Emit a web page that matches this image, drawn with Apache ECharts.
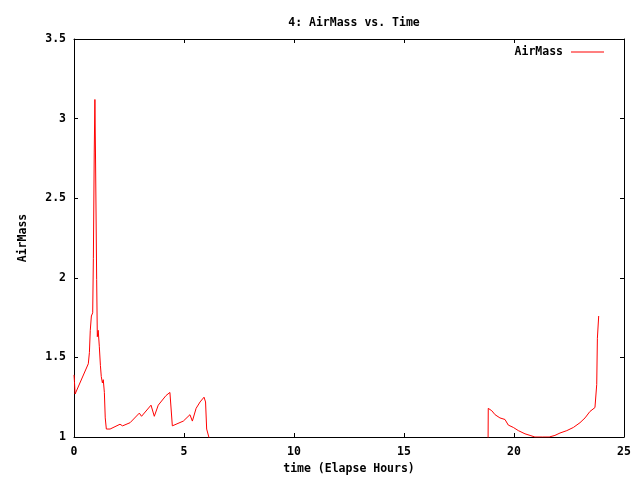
<!DOCTYPE html>
<html>
<head>
<meta charset="utf-8">
<script src="https://cdn.jsdelivr.net/npm/echarts@6/dist/echarts.min.js"></script>
<style>html,body{margin:0;padding:0;background:#fff;}#c{width:640px;height:480px;}</style>
</head>
<body>
<div id="c"></div>
<script>
var hours = [0, 0.02, 0.05, 0.65, 0.7, 0.74, 0.79, 0.85, 0.88, 0.92, 0.95, 0.98, 1.03, 1.06, 1.1, 1.15, 1.2, 1.24, 1.29, 1.33, 1.38, 1.42, 1.47, 1.64, 2.09, 2.21, 2.55, 2.97, 3.07, 3.5, 3.65, 3.83, 4.18, 4.25, 4.36, 4.47, 4.97, 5.27, 5.38, 5.55, 5.73, 5.91, 5.98, 6.03, 8.1, 18.78, 18.83, 18.99, 19.14, 19.36, 19.59, 19.74, 19.97, 20.2, 20.5, 20.73, 20.95, 21.3, 21.6, 21.86, 22.09, 22.4, 22.7, 23.0, 23.23, 23.45, 23.68, 23.71, 23.76, 23.79, 23.85];
var airmass = [1.39, 1.35, 1.27, 1.46, 1.53, 1.67, 1.76, 1.78, 2.12, 2.79, 3.12, 2.74, 1.99, 1.63, 1.67, 1.57, 1.45, 1.38, 1.34, 1.36, 1.28, 1.12, 1.05, 1.05, 1.08, 1.07, 1.09, 1.15, 1.13, 1.20, 1.13, 1.20, 1.26, 1.25, 1.28, 1.07, 1.10, 1.14, 1.10, 1.18, 1.22, 1.25, 1.22, 1.05, 0, 0, 1.18, 1.165, 1.14, 1.12, 1.11, 1.075, 1.06, 1.04, 1.02, 1.01, 1.0, 1.0, 1.0, 1.01, 1.025, 1.04, 1.06, 1.09, 1.12, 1.16, 1.185, 1.185, 1.33, 1.62, 1.76];
var xTicks = [0, 5, 10, 15, 20, 25];
var yTicks = [1, 1.5, 2, 2.5, 3, 3.5];

var FONT = 'DejaVu Sans Mono';
var pts = hours.map(function (h, i) { return [h, airmass[i]]; });
var chart = echarts.init(document.getElementById('c'), null, {renderer: 'canvas'});
var tickStyle = {show: true, inside: true, length: 4, lineStyle: {color: '#000', width: 1}};
var lineStyle = {show: true, onZero: false, lineStyle: {color: '#000', width: 1}};
var txt = {fontFamily: FONT, fontSize: 11.5, fontWeight: 'bold', color: '#000'};
chart.setOption({
  animation: false,
  backgroundColor: '#fff',
  title: {
    text: '4: AirMass vs. Time', left: 349, textAlign: 'center', top: 12,
    textStyle: txt
  },
  legend: {
    right: 31, top: 41, itemWidth: 33, itemHeight: 14, align: 'right',
    icon: 'path://M0,0 L33,0 L33,1 L0,1 Z',
    textStyle: Object.assign({padding: [0, 3, 0, 0]}, txt),
    data: ['AirMass']
  },
  grid: {left: 74, right: 16, top: 39, bottom: 42, containLabel: false},
  xAxis: [{
    type: 'value', min: xTicks[0], max: xTicks[xTicks.length - 1], interval: 5,
    name: 'time (Elapse Hours)', nameLocation: 'middle', nameGap: 26,
    nameTextStyle: txt,
    axisLine: lineStyle, axisTick: tickStyle, splitLine: {show: false},
    axisLabel: Object.assign({margin: 9}, txt)
  }, {
    type: 'value', position: 'top', min: xTicks[0], max: xTicks[xTicks.length - 1], interval: 5,
    axisLine: lineStyle, axisTick: tickStyle, splitLine: {show: false}, axisLabel: {show: false}
  }],
  yAxis: [{
    type: 'value', min: yTicks[0], max: yTicks[yTicks.length - 1], interval: 0.5,
    name: 'AirMass', nameLocation: 'middle', nameGap: 45, nameRotate: 90,
    nameTextStyle: txt,
    axisLine: lineStyle, axisTick: tickStyle, splitLine: {show: false},
    axisLabel: Object.assign({margin: 8}, txt)
  }, {
    type: 'value', position: 'right', min: yTicks[0], max: yTicks[yTicks.length - 1], interval: 0.5,
    axisLine: lineStyle, axisTick: tickStyle, splitLine: {show: false}, axisLabel: {show: false}
  }],
  series: [{
    name: 'AirMass', type: 'line', data: pts, xAxisIndex: 0, yAxisIndex: 0,
    showSymbol: false, symbol: 'none', clip: true,
    itemStyle: {color: '#ff0000'},
    lineStyle: {color: '#ff0000', width: 1}
  }]
});
</script>
</body>
</html>
